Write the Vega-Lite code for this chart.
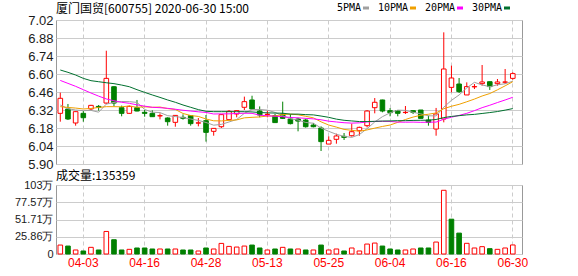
{
  "$schema": "https://vega.github.io/schema/vega-lite/v6.json",
  "background": "white",
  "padding": {"left": 13, "top": 2, "right": 5, "bottom": 5},
  "bounds": "flush",
  "spacing": 21,
  "config": {
    "view": {"stroke": "#999999", "strokeWidth": 1},
    "axis": {"gridColor": "#cccccc", "gridWidth": 1, "ticks": false, "domain": false, "title": null, "labelOverlap": false}
  },
  "data": {"values": [
    {"d":"2020-03-31","o":6.294,"h":6.455,"l":6.229,"c":6.411,"v":13.4,"vd":"up","5PMA":6.359,"10PMA":6.346,"20PMA":6.550,"30PMA":6.631},
    {"d":"2020-04-01","o":6.328,"h":6.367,"l":6.242,"c":6.250,"v":11.9,"vd":"down","5PMA":6.330,"10PMA":6.340,"20PMA":6.527,"30PMA":6.613},
    {"d":"2020-04-02","o":6.219,"h":6.310,"l":6.198,"c":6.307,"v":6.0,"vd":"up","5PMA":6.320,"10PMA":6.335,"20PMA":6.504,"30PMA":6.592},
    {"d":"2020-04-03","o":6.294,"h":6.312,"l":6.229,"c":6.260,"v":4.5,"vd":"down","5PMA":6.315,"10PMA":6.328,"20PMA":6.478,"30PMA":6.566},
    {"d":"2020-04-07","o":6.328,"h":6.360,"l":6.320,"c":6.356,"v":10.0,"vd":"up","5PMA":6.317,"10PMA":6.332,"20PMA":6.452,"30PMA":6.548},
    {"d":"2020-04-08","o":6.348,"h":6.359,"l":6.315,"c":6.341,"v":6.0,"vd":"down","5PMA":6.303,"10PMA":6.340,"20PMA":6.428,"30PMA":6.540},
    {"d":"2020-04-09","o":6.374,"h":6.781,"l":6.367,"c":6.566,"v":33.8,"vd":"up","5PMA":6.366,"10PMA":6.346,"20PMA":6.406,"30PMA":6.532},
    {"d":"2020-04-10","o":6.501,"h":6.505,"l":6.348,"c":6.374,"v":21.4,"vd":"down","5PMA":6.379,"10PMA":6.346,"20PMA":6.392,"30PMA":6.525},
    {"d":"2020-04-13","o":6.338,"h":6.354,"l":6.271,"c":6.294,"v":6.0,"vd":"down","5PMA":6.386,"10PMA":6.345,"20PMA":6.380,"30PMA":6.514},
    {"d":"2020-04-14","o":6.294,"h":6.355,"l":6.290,"c":6.348,"v":7.0,"vd":"up","5PMA":6.385,"10PMA":6.351,"20PMA":6.372,"30PMA":6.501},
    {"d":"2020-04-15","o":6.338,"h":6.398,"l":6.310,"c":6.312,"v":9.0,"vd":"down","5PMA":6.379,"10PMA":6.341,"20PMA":6.360,"30PMA":6.478},
    {"d":"2020-04-16","o":6.302,"h":6.320,"l":6.268,"c":6.294,"v":9.0,"vd":"down","5PMA":6.324,"10PMA":6.345,"20PMA":6.350,"30PMA":6.457},
    {"d":"2020-04-17","o":6.294,"h":6.317,"l":6.268,"c":6.268,"v":7.5,"vd":"down","5PMA":6.303,"10PMA":6.341,"20PMA":6.341,"30PMA":6.437},
    {"d":"2020-04-20","o":6.274,"h":6.294,"l":6.247,"c":6.276,"v":7.5,"vd":"up","5PMA":6.300,"10PMA":6.343,"20PMA":6.338,"30PMA":6.418},
    {"d":"2020-04-21","o":6.258,"h":6.263,"l":6.198,"c":6.229,"v":7.5,"vd":"down","5PMA":6.276,"10PMA":6.331,"20PMA":6.333,"30PMA":6.398},
    {"d":"2020-04-22","o":6.224,"h":6.280,"l":6.190,"c":6.278,"v":7.5,"vd":"up","5PMA":6.269,"10PMA":6.324,"20PMA":6.326,"30PMA":6.380},
    {"d":"2020-04-23","o":6.263,"h":6.286,"l":6.245,"c":6.255,"v":6.0,"vd":"down","5PMA":6.261,"10PMA":6.293,"20PMA":6.318,"30PMA":6.359},
    {"d":"2020-04-24","o":6.276,"h":6.276,"l":6.198,"c":6.214,"v":6.0,"vd":"down","5PMA":6.250,"10PMA":6.277,"20PMA":6.312,"30PMA":6.341},
    {"d":"2020-04-27","o":6.218,"h":6.258,"l":6.193,"c":6.220,"v":4.5,"vd":"up","5PMA":6.239,"10PMA":6.270,"20PMA":6.306,"30PMA":6.323},
    {"d":"2020-04-28","o":6.237,"h":6.281,"l":6.074,"c":6.146,"v":9.0,"vd":"down","5PMA":6.223,"10PMA":6.250,"20PMA":6.301,"30PMA":6.310},
    {"d":"2020-04-29","o":6.154,"h":6.180,"l":6.120,"c":6.177,"v":7.5,"vd":"up","5PMA":6.202,"10PMA":6.236,"20PMA":6.289,"30PMA":6.307},
    {"d":"2020-04-30","o":6.190,"h":6.286,"l":6.180,"c":6.284,"v":15.9,"vd":"up","5PMA":6.208,"10PMA":6.235,"20PMA":6.290,"30PMA":6.307},
    {"d":"2020-05-06","o":6.245,"h":6.320,"l":6.245,"c":6.310,"v":11.4,"vd":"up","5PMA":6.227,"10PMA":6.239,"20PMA":6.290,"30PMA":6.307},
    {"d":"2020-05-07","o":6.289,"h":6.320,"l":6.263,"c":6.315,"v":10.4,"vd":"up","5PMA":6.246,"10PMA":6.243,"20PMA":6.293,"30PMA":6.307},
    {"d":"2020-05-08","o":6.341,"h":6.424,"l":6.320,"c":6.385,"v":11.9,"vd":"up","5PMA":6.294,"10PMA":6.259,"20PMA":6.295,"30PMA":6.307},
    {"d":"2020-05-11","o":6.398,"h":6.431,"l":6.320,"c":6.328,"v":13.4,"vd":"down","5PMA":6.324,"10PMA":6.263,"20PMA":6.294,"30PMA":6.305},
    {"d":"2020-05-12","o":6.312,"h":6.348,"l":6.263,"c":6.281,"v":9.0,"vd":"down","5PMA":6.324,"10PMA":6.266,"20PMA":6.280,"30PMA":6.300},
    {"d":"2020-05-13","o":6.285,"h":6.315,"l":6.263,"c":6.287,"v":6.0,"vd":"up","5PMA":6.319,"10PMA":6.273,"20PMA":6.275,"30PMA":6.298},
    {"d":"2020-05-14","o":6.276,"h":6.289,"l":6.222,"c":6.222,"v":7.5,"vd":"down","5PMA":6.301,"10PMA":6.274,"20PMA":6.272,"30PMA":6.296},
    {"d":"2020-05-15","o":6.289,"h":6.385,"l":6.250,"c":6.255,"v":10.0,"vd":"up","5PMA":6.275,"10PMA":6.285,"20PMA":6.268,"30PMA":6.295},
    {"d":"2020-05-18","o":6.250,"h":6.289,"l":6.208,"c":6.214,"v":7.5,"vd":"down","5PMA":6.252,"10PMA":6.288,"20PMA":6.262,"30PMA":6.288},
    {"d":"2020-05-19","o":6.250,"h":6.260,"l":6.154,"c":6.234,"v":7.5,"vd":"up","5PMA":6.242,"10PMA":6.283,"20PMA":6.259,"30PMA":6.288},
    {"d":"2020-05-20","o":6.242,"h":6.253,"l":6.183,"c":6.190,"v":6.0,"vd":"down","5PMA":6.223,"10PMA":6.271,"20PMA":6.255,"30PMA":6.284},
    {"d":"2020-05-21","o":6.203,"h":6.219,"l":6.185,"c":6.190,"v":6.0,"vd":"up","5PMA":6.217,"10PMA":6.259,"20PMA":6.251,"30PMA":6.282},
    {"d":"2020-05-22","o":6.180,"h":6.193,"l":6.001,"c":6.074,"v":13.4,"vd":"down","5PMA":6.180,"10PMA":6.228,"20PMA":6.244,"30PMA":6.273},
    {"d":"2020-05-25","o":6.055,"h":6.115,"l":6.055,"c":6.084,"v":6.0,"vd":"up","5PMA":6.154,"10PMA":6.203,"20PMA":6.233,"30PMA":6.263},
    {"d":"2020-05-26","o":6.092,"h":6.136,"l":6.058,"c":6.118,"v":7.5,"vd":"up","5PMA":6.131,"10PMA":6.187,"20PMA":6.227,"30PMA":6.249},
    {"d":"2020-05-27","o":6.115,"h":6.141,"l":6.087,"c":6.107,"v":4.5,"vd":"down","5PMA":6.115,"10PMA":6.169,"20PMA":6.221,"30PMA":6.240},
    {"d":"2020-05-28","o":6.120,"h":6.214,"l":6.113,"c":6.151,"v":9.0,"vd":"up","5PMA":6.107,"10PMA":6.162,"20PMA":6.218,"30PMA":6.235},
    {"d":"2020-05-29","o":6.159,"h":6.190,"l":6.120,"c":6.185,"v":4.5,"vd":"up","5PMA":6.129,"10PMA":6.155,"20PMA":6.220,"30PMA":6.230},
    {"d":"2020-06-01","o":6.198,"h":6.320,"l":6.185,"c":6.312,"v":14.9,"vd":"up","5PMA":6.175,"10PMA":6.165,"20PMA":6.227,"30PMA":6.230},
    {"d":"2020-06-02","o":6.338,"h":6.413,"l":6.294,"c":6.380,"v":16.4,"vd":"up","5PMA":6.227,"10PMA":6.179,"20PMA":6.231,"30PMA":6.232},
    {"d":"2020-06-03","o":6.398,"h":6.400,"l":6.302,"c":6.312,"v":11.9,"vd":"down","5PMA":6.268,"10PMA":6.192,"20PMA":6.232,"30PMA":6.234},
    {"d":"2020-06-04","o":6.315,"h":6.335,"l":6.271,"c":6.299,"v":7.5,"vd":"down","5PMA":6.298,"10PMA":6.203,"20PMA":6.231,"30PMA":6.235},
    {"d":"2020-06-05","o":6.315,"h":6.320,"l":6.271,"c":6.294,"v":6.0,"vd":"down","5PMA":6.319,"10PMA":6.224,"20PMA":6.226,"30PMA":6.237},
    {"d":"2020-06-08","o":6.300,"h":6.351,"l":6.289,"c":6.302,"v":6.0,"vd":"up","5PMA":6.317,"10PMA":6.246,"20PMA":6.225,"30PMA":6.237},
    {"d":"2020-06-09","o":6.315,"h":6.320,"l":6.289,"c":6.302,"v":7.5,"vd":"up","5PMA":6.302,"10PMA":6.265,"20PMA":6.226,"30PMA":6.239},
    {"d":"2020-06-10","o":6.320,"h":6.320,"l":6.255,"c":6.255,"v":9.0,"vd":"down","5PMA":6.290,"10PMA":6.279,"20PMA":6.224,"30PMA":6.240},
    {"d":"2020-06-11","o":6.242,"h":6.276,"l":6.198,"c":6.224,"v":9.0,"vd":"down","5PMA":6.275,"10PMA":6.287,"20PMA":6.225,"30PMA":6.241},
    {"d":"2020-06-12","o":6.172,"h":6.336,"l":6.120,"c":6.289,"v":17.9,"vd":"up","5PMA":6.274,"10PMA":6.297,"20PMA":6.226,"30PMA":6.246},
    {"d":"2020-06-15","o":6.250,"h":6.924,"l":6.224,"c":6.639,"v":95.5,"vd":"up","5PMA":6.342,"10PMA":6.330,"20PMA":6.248,"30PMA":6.261},
    {"d":"2020-06-16","o":6.496,"h":6.665,"l":6.457,"c":6.569,"v":52.2,"vd":"down","5PMA":6.395,"10PMA":6.349,"20PMA":6.264,"30PMA":6.270},
    {"d":"2020-06-17","o":6.522,"h":6.569,"l":6.452,"c":6.463,"v":31.3,"vd":"down","5PMA":6.437,"10PMA":6.364,"20PMA":6.278,"30PMA":6.276},
    {"d":"2020-06-18","o":6.437,"h":6.535,"l":6.437,"c":6.502,"v":16.0,"vd":"up","5PMA":6.492,"10PMA":6.384,"20PMA":6.294,"30PMA":6.282},
    {"d":"2020-06-19","o":6.500,"h":6.522,"l":6.483,"c":6.502,"v":9.0,"vd":"up","5PMA":6.535,"10PMA":6.405,"20PMA":6.315,"30PMA":6.286},
    {"d":"2020-06-22","o":6.525,"h":6.670,"l":6.509,"c":6.538,"v":11.0,"vd":"up","5PMA":6.515,"10PMA":6.429,"20PMA":6.338,"30PMA":6.293},
    {"d":"2020-06-23","o":6.540,"h":6.540,"l":6.476,"c":6.502,"v":8.0,"vd":"down","5PMA":6.501,"10PMA":6.448,"20PMA":6.357,"30PMA":6.300},
    {"d":"2020-06-24","o":6.525,"h":6.561,"l":6.509,"c":6.538,"v":7.0,"vd":"up","5PMA":6.516,"10PMA":6.477,"20PMA":6.378,"30PMA":6.308},
    {"d":"2020-06-29","o":6.536,"h":6.639,"l":6.522,"c":6.538,"v":9.0,"vd":"up","5PMA":6.524,"10PMA":6.508,"20PMA":6.398,"30PMA":6.319},
    {"d":"2020-06-30","o":6.566,"h":6.613,"l":6.556,"c":6.603,"v":13.54,"vd":"up","5PMA":6.544,"10PMA":6.540,"20PMA":6.419,"30PMA":6.331}
  ]},
  "vconcat": [
    {
      "width": 466,
      "height": 144,
      "title": {"text": "厦门国贸[600755] 2020-06-30 15:00", "anchor": "start", "frame": "group", "font": "Noto Sans CJK SC", "fontSize": 12, "fontWeight": "normal", "color": "#000000", "offset": -2},
      "encoding": {
        "x": {"field": "d", "type": "ordinal", "bandPosition": 0.5,
          "scale": {"type": "band", "paddingInner": 0.4, "paddingOuter": 0.58, "align": 0.224},
          "axis": {"values": ["2020-04-03","2020-04-16","2020-04-28","2020-05-13","2020-05-25","2020-06-04","2020-06-16","2020-06-30"], "labels": false, "grid": true, "gridDash": [4, 3], "bandPosition": 0.5}}
      },
      "layer": [
        {
          "mark": {"type": "rule", "strokeWidth": 1},
          "encoding": {
            "y": {"field": "l", "type": "quantitative", "scale": {"domain": [5.9, 7.02], "nice": false, "zero": false},
              "axis": {"values": [5.9, 6.04, 6.18, 6.32, 6.46, 6.6, 6.74, 6.88, 7.02], "tickCount": 9, "format": ".2f", "grid": true, "labelOverlap": false, "labelFont": "Liberation Sans", "labelFontSize": 13, "labelColor": "#1a1a1a", "labelPadding": 3}},
            "y2": {"field": "h"},
            "color": {"condition": {"test": "datum.c >= datum.o", "value": "#ff0000"}, "value": "#008000"}
          }
        },
        {
          "mark": {"type": "bar", "strokeWidth": 1},
          "encoding": {
            "y": {"field": "o", "type": "quantitative",
              "axis": {"values": [5.9, 6.04, 6.18, 6.32, 6.46, 6.6, 6.74, 6.88, 7.02], "tickCount": 9, "format": ".2f", "grid": true, "labelOverlap": false, "labelFont": "Liberation Sans", "labelFontSize": 13, "labelColor": "#1a1a1a", "labelPadding": 3}},
            "y2": {"field": "c"},
            "fill": {"condition": {"test": "datum.c >= datum.o", "value": "#ffffff"}, "value": "#008000"},
            "stroke": {"condition": {"test": "datum.c >= datum.o", "value": "#ff0000"}, "value": "#008000"}
          }
        },
        {
          "transform": [{"fold": ["5PMA", "10PMA", "20PMA", "30PMA"], "as": ["ma", "val"]}],
          "mark": {"type": "line", "strokeWidth": 1},
          "encoding": {
            "y": {"field": "val", "type": "quantitative",
              "axis": {"values": [5.9, 6.04, 6.18, 6.32, 6.46, 6.6, 6.74, 6.88, 7.02], "tickCount": 9, "format": ".2f", "grid": true, "labelOverlap": false, "labelFont": "Liberation Sans", "labelFontSize": 13, "labelColor": "#1a1a1a", "labelPadding": 3}},
            "color": {"field": "ma", "type": "nominal",
              "scale": {"domain": ["5PMA", "10PMA", "20PMA", "30PMA"], "range": ["#a0a0a0", "#f0a000", "#ff00ff", "#00702e"]},
              "legend": {"orient": "none", "legendX": 305, "legendY": -17, "direction": "horizontal", "title": null,
                "labelFont": "DejaVu Sans Mono", "labelFontSize": 10, "labelColor": "#000000", "labelAlign": "right", "labelOffset": -10,
                "symbolType": "stroke", "symbolSize": 36, "symbolStrokeWidth": 3, "columnPadding": 2}}
          }
        }
      ]
    },
    {
      "width": 466,
      "height": 69,
      "title": {"text": "成交量:135359", "anchor": "start", "frame": "group", "font": "Noto Sans CJK SC", "fontSize": 12, "fontWeight": "normal", "color": "#000000", "offset": -4},
      "mark": {"type": "bar", "strokeWidth": 1},
      "encoding": {
        "x": {"field": "d", "type": "ordinal", "bandPosition": 0.5,
          "scale": {"type": "band", "paddingInner": 0.4, "paddingOuter": 0.58, "align": 0.224},
          "axis": {"values": ["2020-04-03","2020-04-16","2020-04-28","2020-05-13","2020-05-25","2020-06-04","2020-06-16","2020-06-30"], "labelExpr": "substring(datum.value, 5)", "labelAngle": 0, "labelColor": "#ff0000", "labelFont": "Liberation Sans", "labelFontSize": 12, "labelPadding": 3, "grid": true, "gridDash": [4, 3], "bandPosition": 0.5}},
        "y": {"field": "v", "type": "quantitative", "scale": {"domain": [0, 103.43], "nice": false},
          "axis": {"values": [0, 25.86, 51.71, 77.57, 103.43], "labelOverlap": false, "labelExpr": "datum.value == 0 ? '0' : (datum.value > 100 ? '103万' : format(datum.value, '.2f') + '万')", "labelFont": "Liberation Sans", "labelFontSize": 11, "labelColor": "#1a1a1a", "labelPadding": 3}},
        "fill": {"condition": {"test": "datum.vd == 'up'", "value": "#ffffff"}, "value": "#008000"},
        "stroke": {"condition": {"test": "datum.vd == 'up'", "value": "#ff0000"}, "value": "#008000"}
      }
    }
  ]
}
